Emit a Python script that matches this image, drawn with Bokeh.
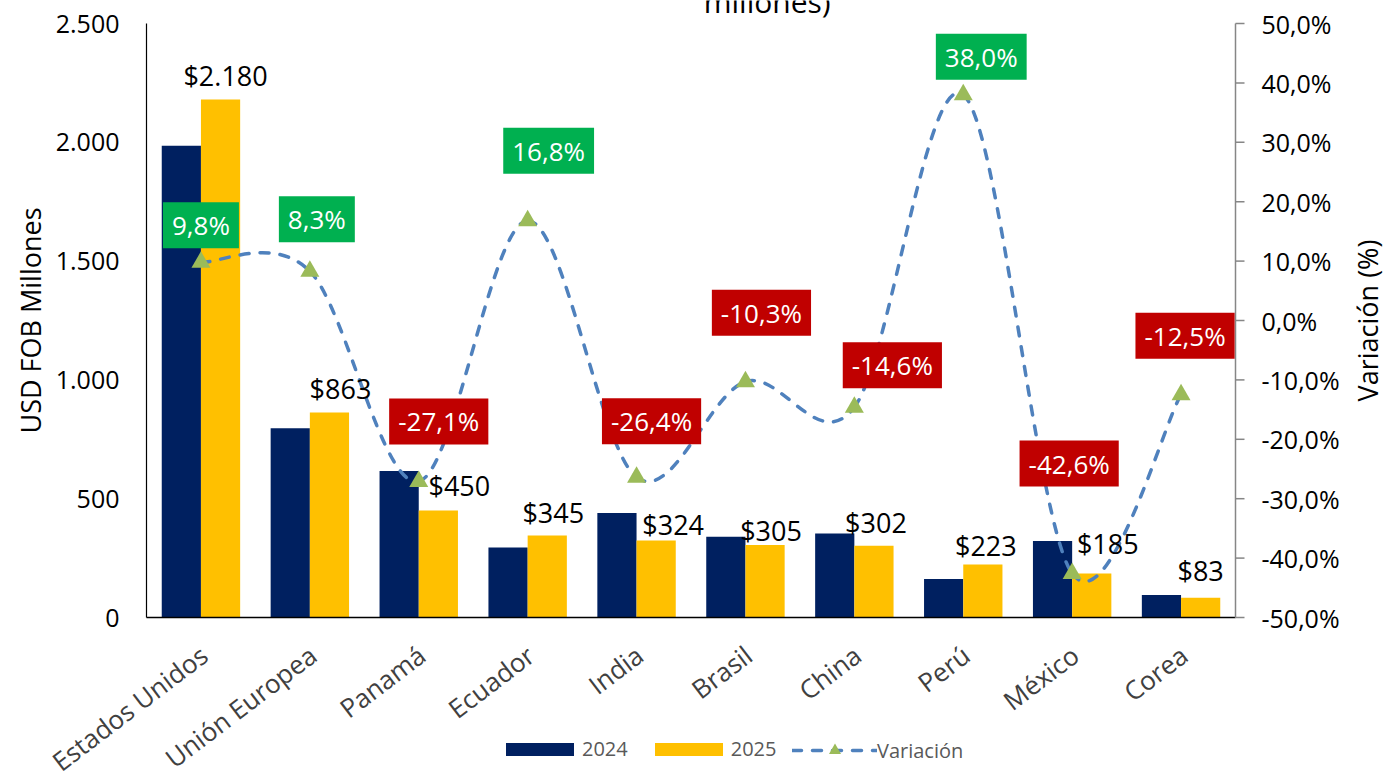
import math
import numpy as np
from bokeh.plotting import figure
from bokeh.models import ColumnDataSource, Range1d, Legend, LegendItem
from bokeh.core.properties import value
from bokeh.embed import file_html
from bokeh.resources import INLINE

# ---------------- data ----------------
categories = ["Estados Unidos", "Unión Europea", "Panamá", "Ecuador", "India",
              "Brasil", "China", "Perú", "México", "Corea"]
values_2024 = [1985, 797, 617, 295, 440, 340, 354, 162, 322, 95]
values_2025 = [2180, 863, 450, 345, 324, 305, 302, 223, 185, 83]
variation = [9.8, 8.3, -27.1, 16.8, -26.4, -10.3, -14.6, 38.0, -42.6, -12.5]
value_labels = ["$2.180", "$863", "$450", "$345", "$324", "$305", "$302",
                "$223", "$185", "$83"]
variation_labels = ["9,8%", "8,3%", "-27,1%", "16,8%", "-26,4%", "-10,3%",
                    "-14,6%", "38,0%", "-42,6%", "-12,5%"]
left_ticks = [0, 500, 1000, 1500, 2000, 2500]
left_tick_labels = ["0", "500", "1.000", "1.500", "2.000", "2.500"]
right_ticks = [-50, -40, -30, -20, -10, 0, 10, 20, 30, 40, 50]
right_tick_labels = ["-50,0%", "-40,0%", "-30,0%", "-20,0%", "-10,0%", "0,0%",
                     "10,0%", "20,0%", "30,0%", "40,0%", "50,0%"]
series_names = ["2024", "2025", "Variación"]
left_title = "USD FOB Millones"
right_title = "Variación (%)"
title_text = "millones)"

# ---------------- layout / label placement (pixels, styling) ----------------
W, H = 1385, 771
AX_L, AX_R = 146, 1235  # page x of the left / right value axes
AX_TOP = 23             # page y of the top of the value axes
AX_ZERO = 617           # page y of the category baseline
value_dx = [5, 11, 21, 6, 17, 6, 2, 3, 16, 0]
value_dy = [24, 24, 25, 23, 16, 15, 23, 19, 30, 27]
box_dx = [0, 7, 20, 21, 15, 16, 38, 18, -3, 4]
box_dy = [37, 52, 60, 70, 56, 69, 42, 38, 110, 59]
CAT_DOWN = 34
CAT_RIGHT = 3
LEFT_TITLE_X = 30
RIGHT_TITLE_X = 1367
TITLE_BASE = 1

FONT = "Open Sans"
NAVY = "#002060"
GOLD = "#FFC000"
LINE = "#4F81BD"
TRI = "#9BBB59"
GREEN = "#00B050"
RED = "#C00000"
GRAY = "#868686"

n = len(categories)
idx = np.arange(n, dtype=float)
bar_w = 0.36

# the plotting frame covers the whole canvas; ranges are set so that the
# value axes land on the same pixels as in the reference
l_lo, l_hi = left_ticks[0], left_ticks[-1]
r_lo, r_hi = right_ticks[0], right_ticks[-1]
x_lo, x_hi = -0.5, n - 0.5
l_per_px = (l_hi - l_lo) / (AX_ZERO - AX_TOP)
r_per_px = (r_hi - r_lo) / (AX_ZERO - AX_TOP)
x_per_px = (x_hi - x_lo) / (AX_R - AX_L)

p = figure(width=W, height=H, output_backend="svg", toolbar_location=None,
           x_axis_location=None, y_axis_location=None,
           x_range=Range1d(x_lo - AX_L * x_per_px, x_hi + (W - AX_R) * x_per_px),
           y_range=Range1d(l_lo - (H - AX_ZERO) * l_per_px,
                           l_hi + AX_TOP * l_per_px),
           min_border=0, outline_line_color=None)
p.extra_y_ranges = {"pct": Range1d(r_lo - (H - AX_ZERO) * r_per_px,
                                   r_hi + AX_TOP * r_per_px)}
p.xgrid.visible = False
p.ygrid.visible = False
p.background_fill_color = "white"
p.border_fill_color = "white"

bars = ColumnDataSource(dict(x24=idx - bar_w / 2, x25=idx + bar_w / 2,
                             v24=values_2024, v25=values_2025,
                             lab=value_labels, dx=value_dx,
                             dy=[-d for d in value_dy]))
r24 = p.vbar(x="x24", top="v24", width=bar_w, source=bars, fill_color=NAVY,
             line_color=None)
r25 = p.vbar(x="x25", top="v25", width=bar_w, source=bars, fill_color=GOLD,
             line_color=None)

# ---------------- axes drawn as glyphs ----------------
p.segment(x0=[x_lo], y0=[l_lo], x1=[x_lo], y1=[l_hi], line_color="#000000",
          line_width=1.2)
p.segment(x0=[x_lo], y0=[l_lo], x1=[x_hi], y1=[l_lo], line_color="#000000",
          line_width=1.5)
p.segment(x0=[x_hi], y0=[r_lo], x1=[x_hi], y1=[r_hi], line_color=GRAY,
          line_width=1.5, y_range_name="pct")
p.ray(x=[x_hi] * len(right_ticks), y=right_ticks, length=9,
      length_units="screen", angle=0, line_color=GRAY, line_width=1.5,
      y_range_name="pct")
p.text(x=[x_lo] * len(left_ticks), y=left_ticks, text=left_tick_labels,
       x_offset=-27, text_align="right", text_baseline="middle",
       text_font=value(FONT), text_font_size="25px", text_color="#000000")
p.text(x=[x_hi] * len(right_ticks), y=right_ticks, text=right_tick_labels,
       x_offset=26, text_align="left", text_baseline="middle",
       y_range_name="pct", text_font=value(FONT), text_font_size="25px",
       text_color="#000000")
mid_l = (l_lo + l_hi) / 2
p.text(x=[x_lo - (AX_L - LEFT_TITLE_X) * x_per_px], y=[mid_l],
       text=[left_title], angle=math.pi / 2, text_align="center",
       text_baseline="middle", text_font=value(FONT), text_font_size="27px",
       text_color="#000000")
p.text(x=[x_hi + (RIGHT_TITLE_X - AX_R) * x_per_px], y=[mid_l],
       text=[right_title], angle=math.pi / 2, text_align="center",
       text_baseline="middle", text_font=value(FONT), text_font_size="27px",
       text_color="#000000")
p.text(x=idx, y=[-CAT_DOWN * l_per_px] * n, text=categories,
       x_offset=CAT_RIGHT, angle=0.65, text_align="right",
       text_baseline="middle", text_font=value(FONT), text_font_size="26px",
       text_color="#404040")
p.text(x=[5.2], y=[l_hi + (AX_TOP - TITLE_BASE) * l_per_px], text=[title_text],
       text_align="center", text_baseline="alphabetic", text_font=value(FONT),
       text_font_size="30px", text_color="#000000")

# ---------------- variation line ----------------
x0, y0, x1, y1, cx0, cy0, cx1, cy1 = [], [], [], [], [], [], [], []
for i in range(n - 1):
    a = max(i - 1, 0)
    d = min(i + 2, n - 1)
    x0.append(idx[i]); y0.append(variation[i])
    x1.append(idx[i + 1]); y1.append(variation[i + 1])
    cx0.append(idx[i] + (idx[i + 1] - idx[a]) / 6.0)
    cy0.append(variation[i] + (variation[i + 1] - variation[a]) / 6.0)
    cx1.append(idx[i + 1] - (idx[d] - idx[i]) / 6.0)
    cy1.append(variation[i + 1] - (variation[d] - variation[i]) / 6.0)
curve = ColumnDataSource(dict(x0=x0, y0=y0, x1=x1, y1=y1,
                              cx0=cx0, cy0=cy0, cx1=cx1, cy1=cy1))
rline = p.bezier(x0="x0", y0="y0", x1="x1", y1="y1", cx0="cx0", cy0="cy0",
                 cx1="cx1", cy1="cy1", source=curve, y_range_name="pct",
                 line_color=LINE, line_width=3.5, line_dash="9 11",
                 line_cap="round")

pts = ColumnDataSource(dict(x=idx, y=variation, lab=variation_labels,
                            bg=[GREEN if v >= 0 else RED for v in variation],
                            dx=box_dx, dy=[-d for d in box_dy]))
rtri = p.scatter(x="x", y="y", source=pts, y_range_name="pct",
                 marker="triangle", size=19, fill_color=TRI, line_color=None)

p.text(x="x25", y="v25", text="lab", source=bars, x_offset="dx",
       y_offset="dy", text_align="center", text_baseline="middle",
       text_font=value(FONT), text_font_size="27px", text_color="#000000")

p.text(x="x", y="y", text="lab", source=pts, y_range_name="pct",
       x_offset="dx", y_offset="dy", text_align="center",
       text_baseline="middle", text_font=value(FONT), text_font_size="26px",
       text_color="white", background_fill_color="bg", padding=(9, 5))

# ---------------- legend ----------------
common = dict(orientation="horizontal", glyph_width=85, label_text_font=FONT,
              label_text_font_size="20px", label_text_color="#595959",
              spacing=18, label_standoff=0, padding=0, margin=0,
              border_line_color=None, background_fill_alpha=0)
leg1 = Legend(items=[LegendItem(label=series_names[0], renderers=[r24]),
                     LegendItem(label=series_names[1], renderers=[r25])],
              location=(497, H - 750 - 12), glyph_height=16, **common)
leg2 = Legend(items=[LegendItem(label=series_names[2],
                                renderers=[rline, rtri])],
              location=(792, H - 750 - 15), glyph_height=30, **common)
p.add_layout(leg1, "center")
p.add_layout(leg2, "center")

open("out.html", "w").write(file_html(p, INLINE))
